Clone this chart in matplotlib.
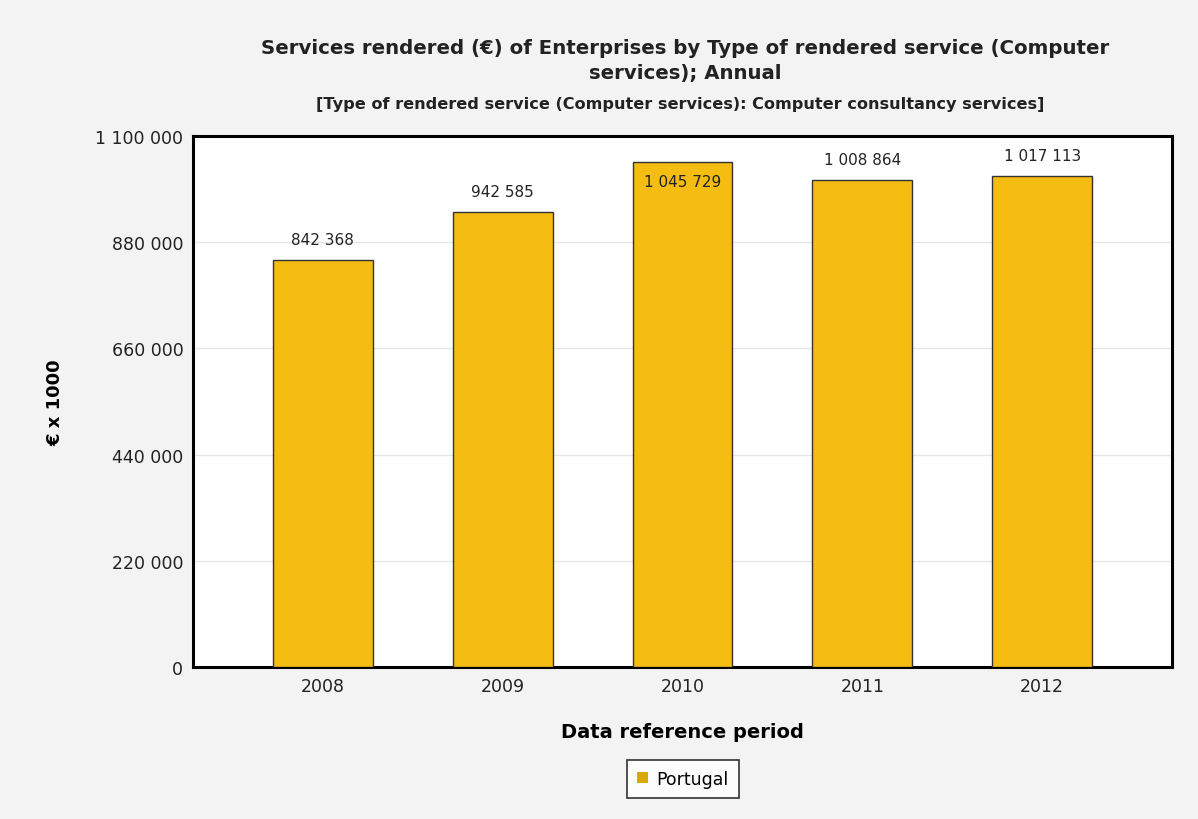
import matplotlib.pyplot as plt
from matplotlib.patches import Patch

plt.rcParams['font.family'] = ['DejaVu Sans']

# data
years = ['2008', '2009', '2010', '2011', '2012']
values = [842368, 942585, 1045729, 1008864, 1017113]
labels = ['842 368', '942 585', '1 045 729', '1 008 864', '1 017 113']
yticks = [0, 220000, 440000, 660000, 880000, 1100000]
ytick_labels = ['0', '220 000', '440 000', '660 000', '880 000', '1 100 000']

bar_color = '#f5bc12'
bg = '#f3f3f3'

fig = plt.figure(figsize=(11.98, 8.2), dpi=100, facecolor=bg)
ax = fig.add_axes([193/1198, 1 - 668/820, (1172-193)/1198, (668-137)/820])
ax.set_facecolor('white')

x = range(len(years))
ax.bar(x, values, width=0.556, color=bar_color, edgecolor='#333333', linewidth=1, zorder=3)

for i, (v, lab) in enumerate(zip(values, labels)):
    # the tallest label would hit the frame, so it goes inside the bar
    dy = -14 if v > 1030000 else 15
    ax.annotate(lab, (i, v), xytext=(0, dy), textcoords='offset points',
                ha='center', va='center', fontsize=11, color='#222222', zorder=4)

ax.set_xlim(-0.722, 4.722)
ax.set_ylim(0, 1100000)
ax.set_yticks(yticks)
ax.set_yticklabels(ytick_labels)
ax.set_xticks(list(x))
ax.set_xticklabels(years)
ax.tick_params(axis='both', length=0, labelsize=12.5, colors='#222222', pad=7)
ax.grid(axis='y', color='#e6e6e6', linewidth=1, zorder=0)
for s in ax.spines.values():
    s.set_linewidth(2.2)
    s.set_color('black')

ax.set_ylabel('€ x 1000', fontsize=13, fontweight='bold', labelpad=22)
ax.set_xlabel('Data reference period', fontsize=14, fontweight='bold', labelpad=20)

fig.text(685/1198, 1 - 48/820, 'Services rendered (€) of Enterprises by Type of rendered service (Computer',
         ha='center', va='center', fontsize=14.2, fontweight='bold', color='#222222')
fig.text(685/1198, 1 - 74/820, 'services); Annual',
         ha='center', va='center', fontsize=14.2, fontweight='bold', color='#222222')
fig.text(680/1198, 1 - 104/820, '[Type of rendered service (Computer services): Computer consultancy services]',
         ha='center', va='center', fontsize=11.6, fontweight='bold', color='#222222')

leg = fig.legend(handles=[Patch(facecolor='#d9a800', label='Portugal')],
                 loc='center', bbox_to_anchor=(683/1198, 1 - 780/820),
                 frameon=True, fontsize=12.5, handlelength=0.6, handleheight=0.6,
                 handletextpad=0.5, fancybox=False, borderpad=0.6)
leg.get_frame().set_edgecolor('black')
leg.get_frame().set_linewidth(1.2)

fig.savefig('out.png', dpi=100, facecolor=bg)
